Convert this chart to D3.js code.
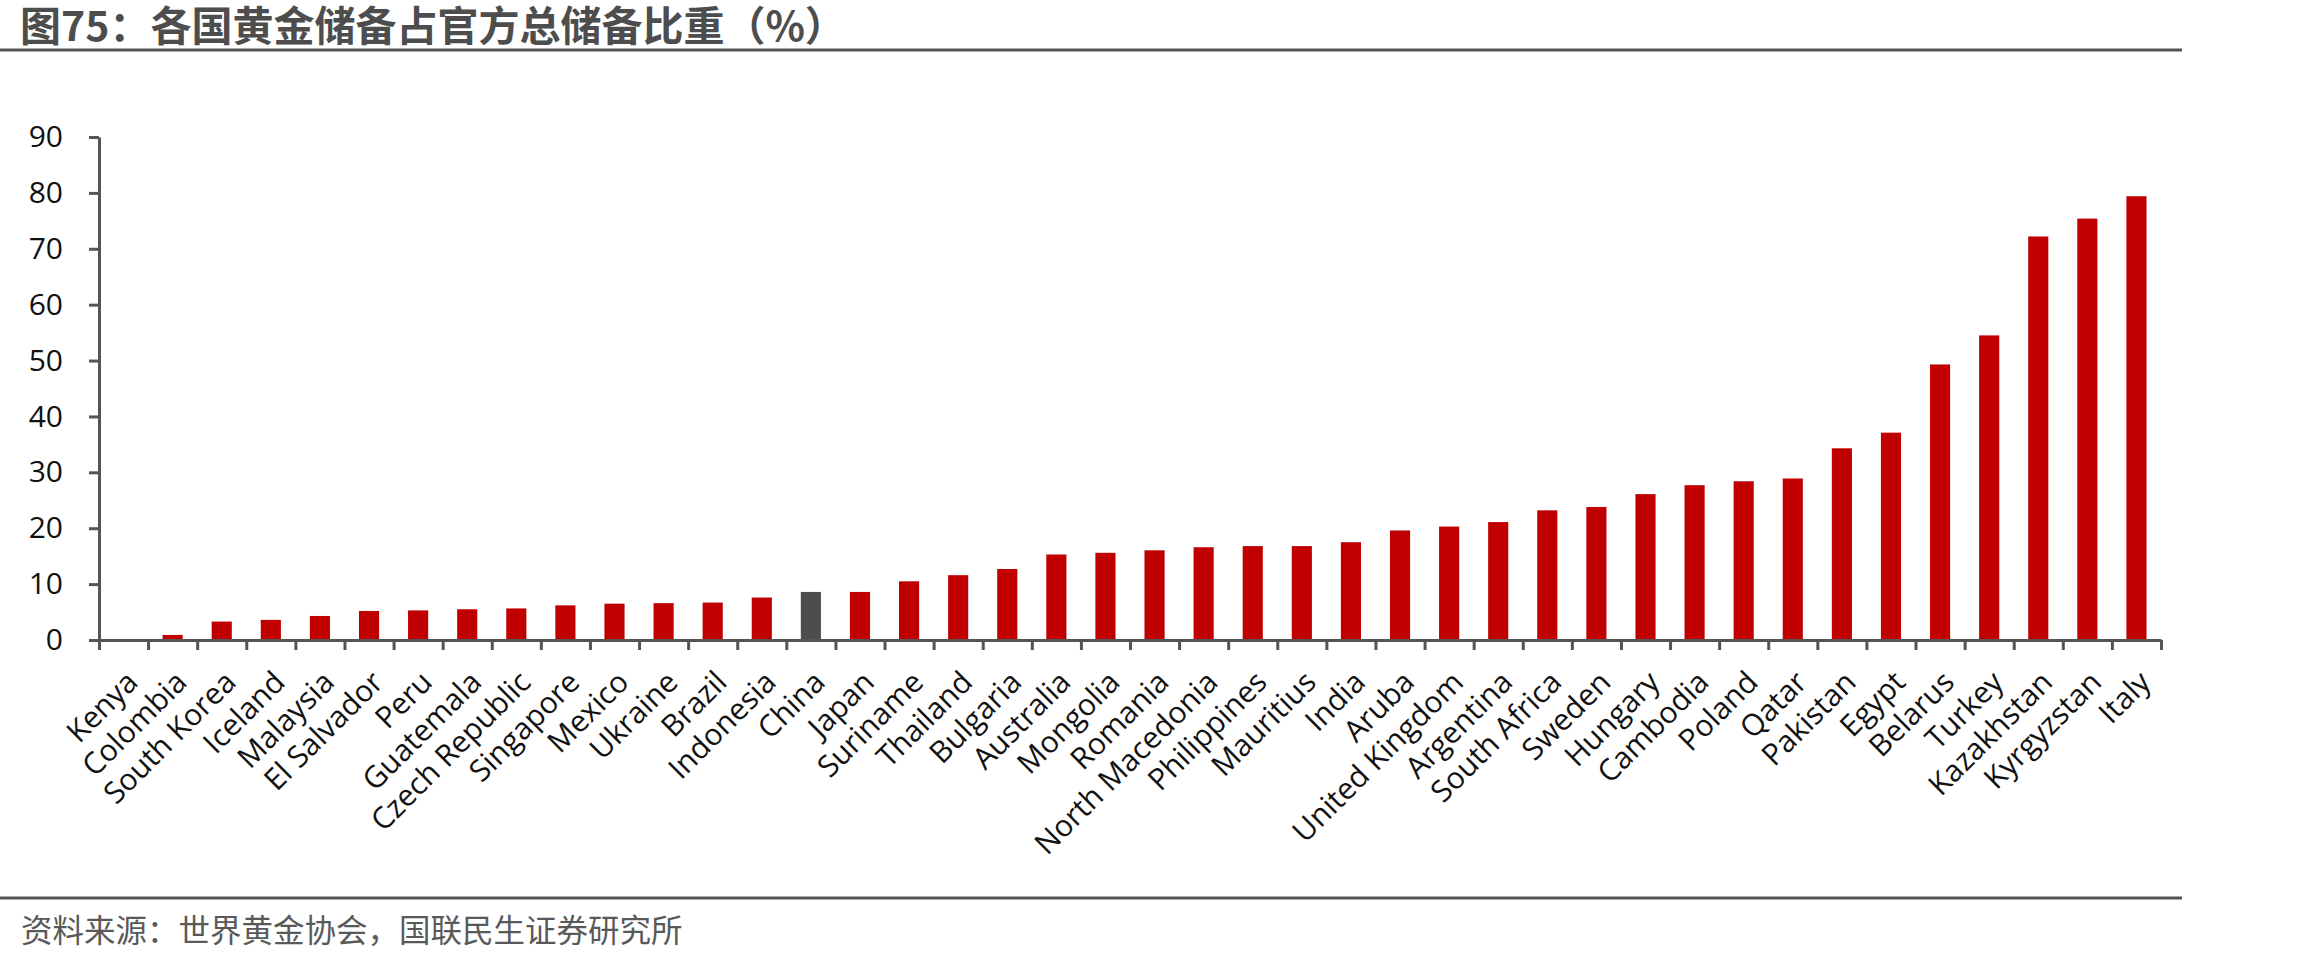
<!DOCTYPE html>
<html>
<head>
<meta charset="utf-8">
<script src="https://cdn.jsdelivr.net/npm/d3@7"></script>
<style>
  body { margin: 0; background: #fff; }
  svg { display: block; }
</style>
</head>
<body>
<svg width="2310" height="960"></svg>
<script>
// data
var countries = ["Kenya", "Colombia", "South Korea", "Iceland", "Malaysia", "El Salvador", "Peru",
  "Guatemala", "Czech Republic", "Singapore", "Mexico", "Ukraine", "Brazil", "Indonesia", "China",
  "Japan", "Suriname", "Thailand", "Bulgaria", "Australia", "Mongolia", "Romania", "North Macedonia",
  "Philippines", "Mauritius", "India", "Aruba", "United Kingdom", "Argentina", "South Africa",
  "Sweden", "Hungary", "Cambodia", "Poland", "Qatar", "Pakistan", "Egypt", "Belarus", "Turkey",
  "Kazakhstan", "Kyrgyzstan", "Italy"];

var goldShare = [0, 0.9, 3.3, 3.6, 4.3, 5.2, 5.3,
  5.5, 5.65, 6.2, 6.5, 6.6, 6.7, 7.6, 8.6,
  8.6, 10.5, 11.6, 12.7, 15.3, 15.6, 16.05, 16.6,
  16.8, 16.8, 17.5, 19.6, 20.3, 21.1, 23.2,
  23.8, 26.1, 27.7, 28.4, 28.9, 34.3, 37.1, 49.3, 54.5,
  72.2, 75.4, 79.4];

var highlighted = ["China"];
var yTicks = [0, 10, 20, 30, 40, 50, 60, 70, 80, 90];

var titleText = "图75：各国黄金储备占官方总储备比重（%）";
var sourceText = "资料来源：世界黄金协会，国联民生证券研究所";

// layout (plot edges)
var svg = d3.select("svg");
var plotLeft = 99, plotRight = 2161, plotTop = 137, plotBottom = 640;
var axisColor = "#555555";
var font = "'Open Sans', 'Noto Sans', sans-serif";

var x = d3.scaleBand()
  .domain(countries)
  .range([plotLeft, plotRight])
  .paddingInner(0.59)
  .paddingOuter(0.295);

var xEdges = d3.scaleLinear()
  .domain([0, countries.length])
  .range([plotLeft, plotRight]);

var y = d3.scaleLinear()
  .domain([0, 90])
  .range([plotBottom, plotTop]);

// title and rules
svg.append("text")
  .attr("x", 20)
  .attr("y", 41)
  .attr("font-family", "'Noto Sans CJK SC', sans-serif")
  .attr("font-weight", "bold")
  .attr("font-size", 41)
  .attr("fill", "#4d4d4d")
  .text(titleText);

svg.append("line")
  .attr("x1", 0).attr("x2", 2182)
  .attr("y1", 50).attr("y2", 50)
  .attr("stroke", axisColor)
  .attr("stroke-width", 3);

svg.append("line")
  .attr("x1", 0).attr("x2", 2182)
  .attr("y1", 898).attr("y2", 898)
  .attr("stroke", axisColor)
  .attr("stroke-width", 3);

svg.append("text")
  .attr("x", 21)
  .attr("y", 942)
  .attr("font-family", "'Noto Sans CJK SC', sans-serif")
  .attr("font-size", 31.5)
  .attr("fill", "#595959")
  .text(sourceText);

// bars
svg.append("g")
  .selectAll("rect")
  .data(countries)
  .enter().append("rect")
  .attr("x", d => x(d))
  .attr("width", x.bandwidth())
  .attr("y", (d, i) => y(goldShare[i]))
  .attr("height", (d, i) => y(0) - y(goldShare[i]))
  .attr("fill", d => highlighted.indexOf(d) >= 0 ? "#4d4d4d" : "#c00000");

// y axis
var yAxis = svg.append("g")
  .attr("transform", "translate(" + plotLeft + ",0)")
  .call(d3.axisLeft(y).tickValues(yTicks).tickSize(10).tickSizeOuter(0).tickPadding(26));

// x axis, ticks between categories
var xAxis = svg.append("g")
  .attr("transform", "translate(0," + plotBottom + ")")
  .call(d3.axisBottom(xEdges).tickValues(d3.range(countries.length + 1)).tickSize(10).tickSizeOuter(0).tickFormat(""));

[yAxis, xAxis].forEach(function(g) {
  g.select(".domain").attr("stroke", axisColor).attr("stroke-width", 3);
  g.selectAll(".tick line").attr("stroke", axisColor).attr("stroke-width", 3);
});

yAxis.selectAll(".tick text")
  .attr("font-family", font)
  .attr("font-size", 30)
  .attr("fill", "#111");

// category labels
svg.append("g")
  .selectAll("text")
  .data(countries)
  .enter().append("text")
  .attr("transform", d => "translate(" + (x(d) + x.bandwidth() / 2 + 16) + "," + (plotBottom + 44) + ") rotate(-45)")
  .attr("text-anchor", "end")
  .attr("font-family", font)
  .attr("font-size", 30)
  .attr("fill", "#111")
  .text(d => d);
</script>
</body>
</html>
